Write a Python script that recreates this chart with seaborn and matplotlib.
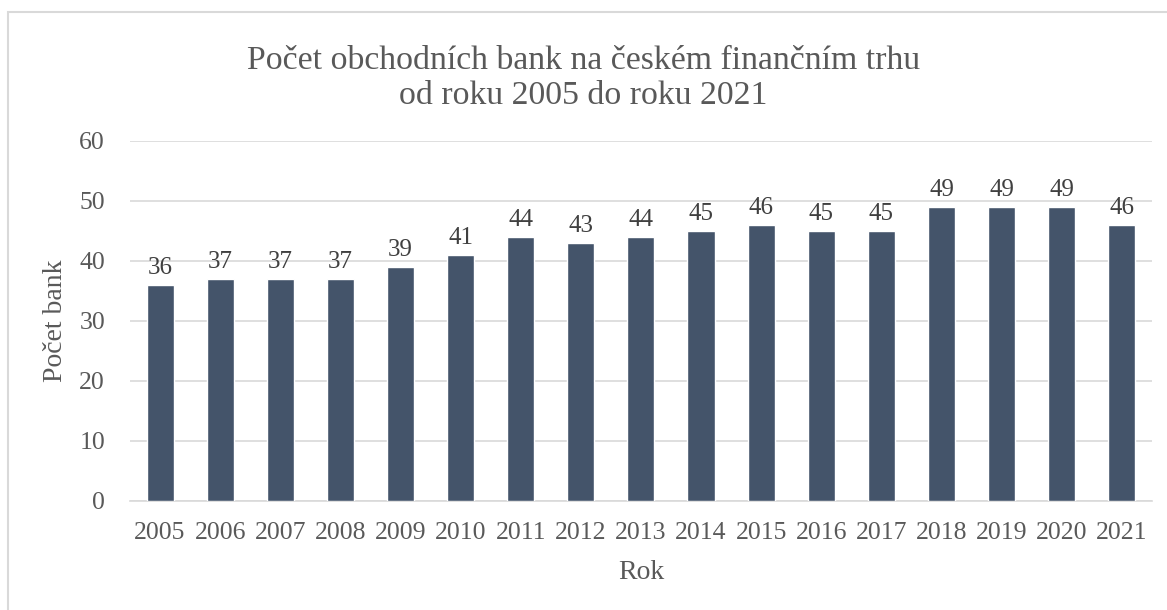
import matplotlib
matplotlib.use("Agg")
import matplotlib.pyplot as plt
import seaborn as sns
import pandas as pd
from matplotlib.patches import Rectangle

# Data
years = ["2005", "2006", "2007", "2008", "2009", "2010", "2011", "2012", "2013",
         "2014", "2015", "2016", "2017", "2018", "2019", "2020", "2021"]
bank_counts = [36, 37, 37, 37, 39, 41, 44, 43, 44, 45, 46, 45, 45, 49, 49, 49, 46]
y_ticks = [0, 10, 20, 30, 40, 50, 60]

data = pd.DataFrame({"Rok": years, "Počet bank": bank_counts})

sns.set_style("white")
plt.rcParams["font.family"] = ["Liberation Serif", "DejaVu Serif"]

text_color = "#595959"
grid_color = "#D9D9D9"
bar_color = "#44546A"

fig = plt.figure(figsize=(11.67, 6.10), dpi=100)
ax = fig.add_axes([0.1114, 0.1787, 0.8756, 0.5902])

sns.barplot(data=data, x="Rok", y="Počet bank", color=bar_color, width=0.45,
            saturation=1, ax=ax, zorder=3)

for container in ax.containers:
    ax.bar_label(container, padding=4, fontsize=18, color="#404040")

ax.set_ylim(0, 60)
ax.set_yticks(y_ticks)
ax.set_xlim(-0.5, len(years) - 0.5)
ax.grid(axis="y", color=grid_color, linewidth=1.2, zorder=0)
for side in ["top", "right", "left"]:
    ax.spines[side].set_visible(False)
ax.spines["bottom"].set_color(grid_color)
ax.spines["bottom"].set_linewidth(1.2)
ax.tick_params(axis="both", length=0, labelsize=18.5, labelcolor=text_color)
ax.tick_params(axis="x", pad=15)
ax.tick_params(axis="y", pad=18)

ax.set_xlabel("Rok", fontsize=20, color=text_color, labelpad=12)
ax.set_ylabel("Počet bank", fontsize=20, color=text_color, labelpad=8)

fig.text(0.5, 0.872, "Počet obchodních bank na českém finančním trhu\nod roku 2005 do roku 2021",
         ha="center", va="center", fontsize=24.3, color=text_color, linespacing=1.2)

# light chart-area frame
fig.patches.append(Rectangle((8 / 1167, -0.1), 1.2, (610 - 12) / 610 + 0.1,
                             transform=fig.transFigure, fill=False,
                             edgecolor=grid_color, linewidth=1.5))

plt.savefig("out.png", dpi=100)
